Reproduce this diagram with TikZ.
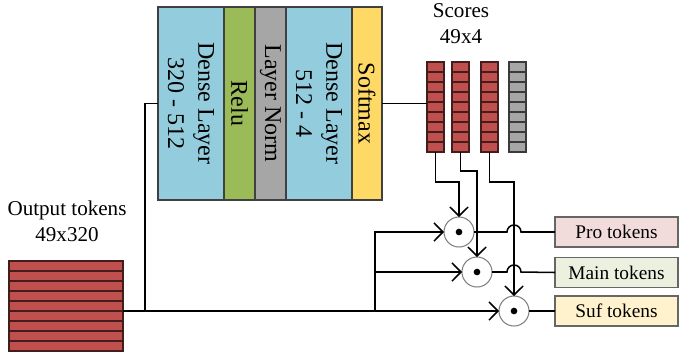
\documentclass[tikz,border=0pt]{standalone}
\usepackage{fontspec}
\setmainfont{Liberation Serif}
\usetikzlibrary{arrows.meta, positioning, calc}
\definecolor{headblue}{HTML}{93CDDD}
\definecolor{headgreen}{HTML}{9BBB59}
\definecolor{headgrey}{HTML}{A6A6A6}
\definecolor{headamber}{HTML}{FFD966}
\definecolor{headred}{HTML}{C0504D}
\definecolor{headpink}{HTML}{F2DCDB}
\definecolor{headmint}{HTML}{EBF1DE}
\definecolor{headcream}{HTML}{FFF2CC}

\begin{document}
\begin{tikzpicture}[x=0.03cm, y=-0.03cm, line width=1.3pt,
  every node/.style={inner sep=0pt, outer sep=0pt},
  layer/.style={draw=black!75, line width=0.9pt, minimum height=5.79cm},
  laytext/.style={rotate=-90, align=center, font=\fontsize{20.5}{26}\selectfont},
  cell/.style={line width=1pt},
  prod/.style={circle, draw=black!50, fill=white, minimum size=0.9cm, line width=0.9pt},
  outbox/.style={draw=black!60, line width=0.9pt, minimum width=3.69cm,
    minimum height=0.9cm, font=\fontsize{16.5}{20}\selectfont},
  conn/.style={-{Straight Barb[length=0.27cm, width=0.55cm]}}]
  \useasboundingbox (0,0) rectangle (679,354);

  % layer stack
  \node[layer, fill=headblue, minimum width=1.98cm] (dense1) at (191,103.5) {};
  \node[layer, fill=headgreen, minimum width=0.93cm, right=0pt of dense1] (relu) {};
  \node[layer, fill=headgrey, minimum width=0.93cm, right=0pt of relu] (norm) {};
  \node[layer, fill=headblue, minimum width=1.98cm, right=0pt of norm] (dense2) {};
  \node[layer, fill=headamber, minimum width=0.9cm, right=0pt of dense2] (soft) {};
  \node[laytext] (t1) at (dense1) {Dense Layer\\320 - 512};
  \node[laytext] (t2) at (relu) {Relu};
  \node[laytext] (t3) at (norm) {Layer Norm};
  \node[laytext] (t4) at (dense2) {Dense Layer\\512 - 4};
  \node[laytext] (t5) at (soft) {Softmax};

  % score columns
  \foreach \n/\xl/\col in {1/427/headred, 2/452/headred, 3/481/headred, 4/509/headgrey}
  {
    \foreach \k in {0,...,8}
      \draw[cell, fill=\col, draw=\col!35!black] (\xl,62+\k*10) rectangle ++(17,10);
    \node[minimum width=0.51cm, minimum height=2.7cm] (s\n) at (\xl+8.5,107) {};
  }
  \node[align=center, font=\fontsize{18}{22}\selectfont] (scorelabel) at (461,24) {Scores\\49x4};

  % output tokens
  \foreach \k in {0,...,8}
    \draw[cell, fill=headred, draw=headred!35!black] (9,261+\k*10) rectangle ++(114,10);
  \node[minimum width=3.42cm, minimum height=2.7cm] (tok) at (66,306) {};
  \node[align=center, font=\fontsize{18}{22}\selectfont] (toklabel) at (67,221) {Output tokens\\49x320};

  % products
  \node[prod] (m1) at (459,232) {};
  \node[prod] (m2) at (477,272) {};
  \node[prod] (m3) at (514,311) {};
  \foreach \m in {m1,m2,m3}
    \fill (\m) circle[radius=0.1cm];

  % results
  \node[outbox, fill=headpink] (pro) at (616.5,232) {Pro tokens};
  \node[outbox, fill=headmint] (main) at (616.5,272.5) {Main tokens};
  \node[outbox, fill=headcream] (suf) at (616.5,311) {Suf tokens};

  % connectors
  \coordinate (j) at (145,311);
  \coordinate (k) at (375,311);
  \draw (j) |- (dense1.west);
  \draw[conn] (j -| tok.east) -- (m3.west);
  \draw[conn] (k) |- (m1.west);
  \draw[conn] (k |- m2.west) -- (m2.west);
  \draw (soft.east) -- (soft.east -| s1.west);
  \draw[conn] (s1.south) -- ++(0,30) -| (m1.north);
  \draw[conn] (s2.south) -- ++(0,19) -| (m2.north);
  \draw[conn] (s3.south) -- ++(0,30) -| (m3.north);
  \draw (m1.east) -- ($(m3 |- m1)+(-7,0)$) arc[start angle=180, end angle=0, radius=0.21cm] -- (pro.west);
  \draw (m2.east) -- ($(m3 |- m2)+(-7,0)$) arc[start angle=180, end angle=0, radius=0.21cm] -- (main.west);
  \draw (m3.east) -- (suf.west);
\end{tikzpicture}
\end{document}
